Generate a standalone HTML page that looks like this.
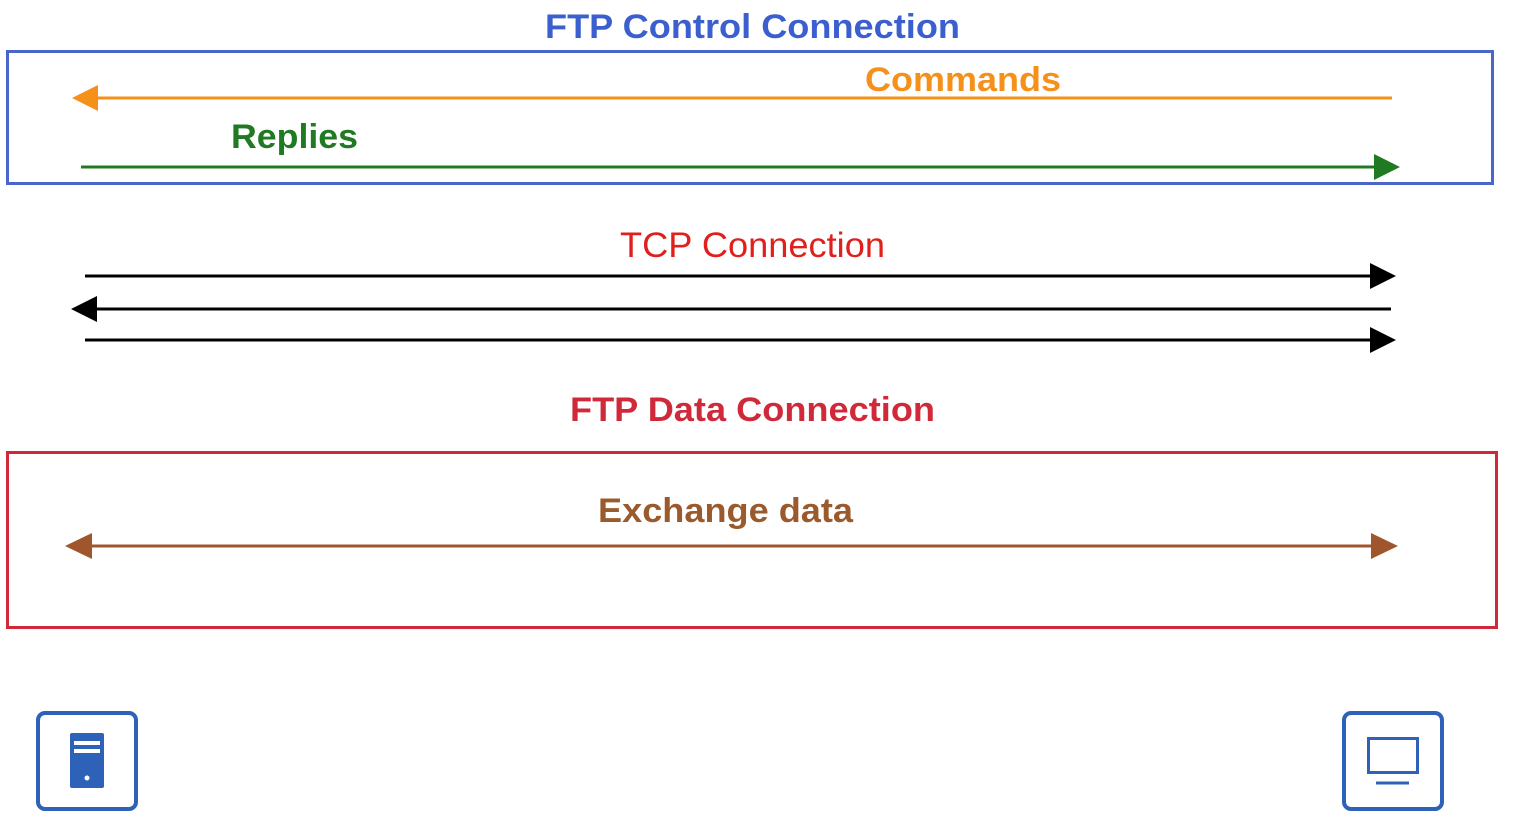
<!DOCTYPE html>
<html><head><meta charset="utf-8"><style>
html,body{margin:0;padding:0;background:#fff;}
svg{display:block;}
text{font-family:"Liberation Sans",Arial,sans-serif;}
</style></head><body>
<svg width="1529" height="837" viewBox="0 0 1529 837" xmlns="http://www.w3.org/2000/svg">
<rect width="1529" height="837" fill="#fff"/>
<text x="545" y="38" font-size="34" font-weight="bold" fill="#3c5fcf" textLength="415" lengthAdjust="spacingAndGlyphs">FTP Control Connection</text>
<rect x="7.5" y="51.5" width="1485" height="132" fill="none" stroke="#4a66c8" stroke-width="3"/>
<text x="865" y="91" font-size="34" font-weight="bold" fill="#f5901a" textLength="196" lengthAdjust="spacingAndGlyphs">Commands</text>
<line x1="95" y1="98" x2="1392" y2="98" stroke="#f5901a" stroke-width="3"/>
<polygon points="72,98 98,85 98,111" fill="#f5901a"/>
<text x="231" y="148" font-size="34" font-weight="bold" fill="#1f7a22" textLength="127" lengthAdjust="spacingAndGlyphs">Replies</text>
<line x1="81" y1="167" x2="1380" y2="167" stroke="#1f7a22" stroke-width="3"/>
<polygon points="1400,167 1374,154 1374,180" fill="#1f7a22"/>

<text x="620" y="257" font-size="35" fill="#e0201c" textLength="265" lengthAdjust="spacingAndGlyphs">TCP Connection</text>
<line x1="85" y1="276" x2="1376" y2="276" stroke="#000" stroke-width="3"/>
<polygon points="1396,276 1370,263 1370,289" fill="#000"/>
<line x1="92" y1="309" x2="1391" y2="309" stroke="#000" stroke-width="3"/>
<polygon points="71,309 97,296 97,322" fill="#000"/>
<line x1="85" y1="340" x2="1376" y2="340" stroke="#000" stroke-width="3"/>
<polygon points="1396,340 1370,327 1370,353" fill="#000"/>

<text x="570" y="421" font-size="34" font-weight="bold" fill="#d02a3a" textLength="365" lengthAdjust="spacingAndGlyphs">FTP Data Connection</text>
<rect x="7.5" y="452.5" width="1489" height="175" fill="none" stroke="#d02a3a" stroke-width="3"/>
<text x="598" y="522" font-size="34" font-weight="bold" fill="#9a5a2c" textLength="255" lengthAdjust="spacingAndGlyphs">Exchange data</text>
<line x1="88" y1="546" x2="1378" y2="546" stroke="#a0562c" stroke-width="3"/>
<polygon points="65,546 92,533 92,559" fill="#a0562c"/>
<polygon points="1398,546 1371,533 1371,559" fill="#a0562c"/>

<rect x="38" y="713" width="98" height="96" rx="7" fill="none" stroke="#2d62b8" stroke-width="4"/>
<rect x="70" y="733" width="34" height="55" rx="2" fill="#2d62b8"/>
<rect x="74" y="741" width="26" height="4" fill="#fff"/>
<rect x="74" y="749" width="26" height="4" fill="#fff"/>
<circle cx="87" cy="778" r="2.5" fill="#fff"/>

<rect x="1344" y="713" width="98" height="96" rx="7" fill="none" stroke="#2d62b8" stroke-width="4"/>
<rect x="1368.5" y="738.5" width="49" height="34" fill="none" stroke="#2d62b8" stroke-width="3"/>
<line x1="1376" y1="783" x2="1409" y2="783" stroke="#2d62b8" stroke-width="3"/>
</svg>
</body></html>
